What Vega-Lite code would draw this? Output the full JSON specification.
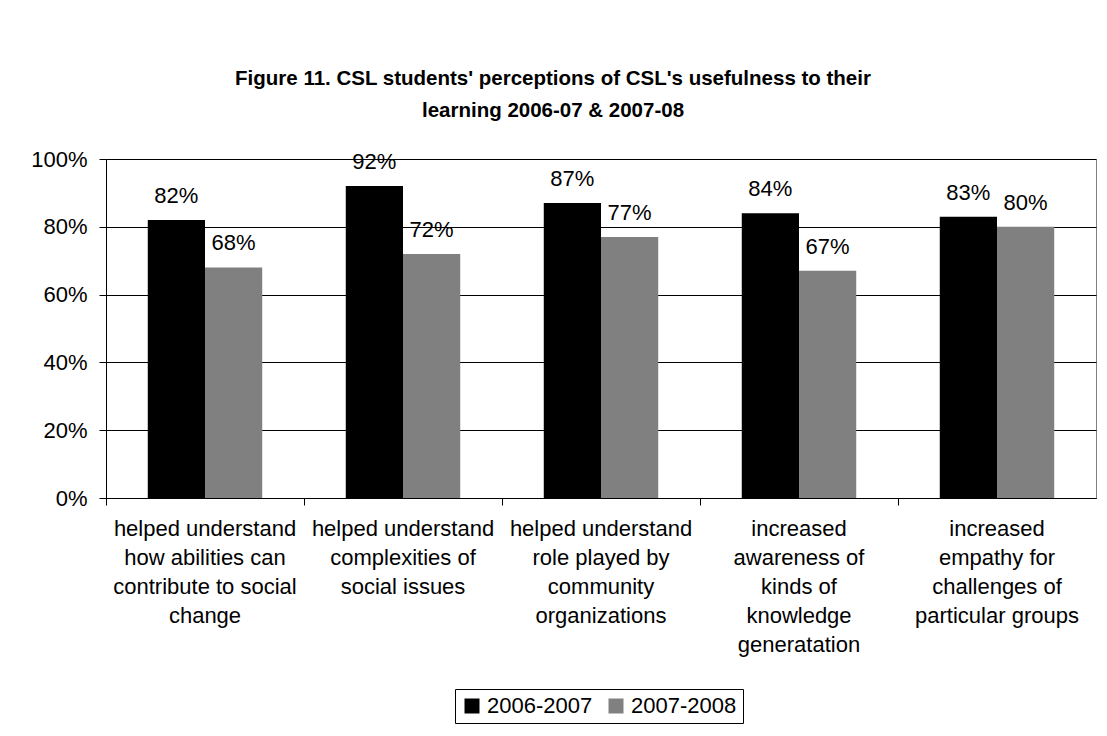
{
  "$schema": "https://vega.github.io/schema/vega-lite/v6.json",
  "width": 990,
  "height": 339,
  "autosize": {"type": "none"},
  "padding": {"left": 106, "top": 159, "right": 11, "bottom": 238},
  "background": "white",
  "title": {
    "text": ["Figure 11. CSL students' perceptions of CSL's usefulness to their", "learning 2006-07 & 2007-08"],
    "anchor": "middle",
    "frame": "group",
    "dx": -48,
    "offset": 27,
    "font": "Liberation Sans",
    "fontSize": 20.5,
    "fontWeight": "bold",
    "lineHeight": 32,
    "color": "black"
  },
  "data": {
    "values": [
      {"item": "abilities", "year": "2006-2007", "pct": 0.82},
      {"item": "abilities", "year": "2007-2008", "pct": 0.68},
      {"item": "complexities", "year": "2006-2007", "pct": 0.92},
      {"item": "complexities", "year": "2007-2008", "pct": 0.72},
      {"item": "role", "year": "2006-2007", "pct": 0.87},
      {"item": "role", "year": "2007-2008", "pct": 0.77},
      {"item": "awareness", "year": "2006-2007", "pct": 0.84},
      {"item": "awareness", "year": "2007-2008", "pct": 0.67},
      {"item": "empathy", "year": "2006-2007", "pct": 0.83},
      {"item": "empathy", "year": "2007-2008", "pct": 0.80}
    ]
  },
  "encoding": {
    "x": {
      "field": "item",
      "type": "nominal",
      "sort": ["abilities", "complexities", "role", "awareness", "empathy"],
      "scale": {"paddingInner": 0, "paddingOuter": 0},
      "axis": {
        "title": null,
        "bandPosition": 0,
        "labelAngle": 0,
        "labelFont": "Liberation Sans",
        "labelFontSize": 22,
        "labelColor": "black",
        "labelLineHeight": 29,
        "labelPadding": 13,
        "labelBaseline": "top",
        "labelLimit": 0,
        "domainColor": "black",
        "tickColor": "black",
        "tickSize": 7,
        "labelExpr": "{'abilities': ['helped understand', 'how abilities can', 'contribute to social', 'change'], 'complexities': ['helped understand', 'complexities of', 'social issues'], 'role': ['helped understand', 'role played by', 'community', 'organizations'], 'awareness': ['increased', 'awareness of', 'kinds of', 'knowledge', 'generatation'], 'empathy': ['increased', 'empathy for', 'challenges of', 'particular groups']}[datum.value]"
      }
    },
    "xOffset": {
      "field": "year",
      "type": "nominal",
      "scale": {"paddingInner": 0, "paddingOuter": 0.73}
    },
    "y": {
      "field": "pct",
      "type": "quantitative",
      "scale": {"domain": [0, 1], "nice": false},
      "axis": {
        "title": null,
        "values": [0, 0.2, 0.4, 0.6, 0.8, 1],
        "format": ".0%",
        "labelFont": "Liberation Sans",
        "labelFontSize": 22,
        "labelColor": "black",
        "labelPadding": 12,
        "domainColor": "black",
        "tickColor": "black",
        "tickSize": 7,
        "grid": true,
        "gridColor": "black",
        "gridWidth": 1
      }
    }
  },
  "layer": [
    {
      "mark": {"type": "bar"},
      "encoding": {
        "color": {
          "field": "year",
          "type": "nominal",
          "scale": {"domain": ["2006-2007", "2007-2008"], "range": ["#000000", "#808080"]},
          "legend": {
            "title": null,
            "orient": "none",
            "legendX": 349,
            "legendY": 530,
            "direction": "horizontal",
            "symbolType": "square",
            "symbolSize": 225,
            "symbolStrokeWidth": 0,
            "symbolOpacity": 1,
            "labelFont": "Liberation Sans",
            "labelFontSize": 22,
            "labelColor": "black",
            "labelOffset": 4,
            "columnPadding": 12,
            "strokeColor": "black",
            "fillColor": "white",
            "padding": 6
          }
        }
      }
    },
    {
      "mark": {
        "type": "text",
        "baseline": "alphabetic",
        "dy": -17,
        "font": "Liberation Sans",
        "fontSize": 22,
        "color": "black"
      },
      "encoding": {
        "text": {"field": "pct", "type": "quantitative", "format": ".0%"}
      }
    }
  ],
  "config": {
    "view": {"stroke": "#808080", "strokeWidth": 1}
  }
}
